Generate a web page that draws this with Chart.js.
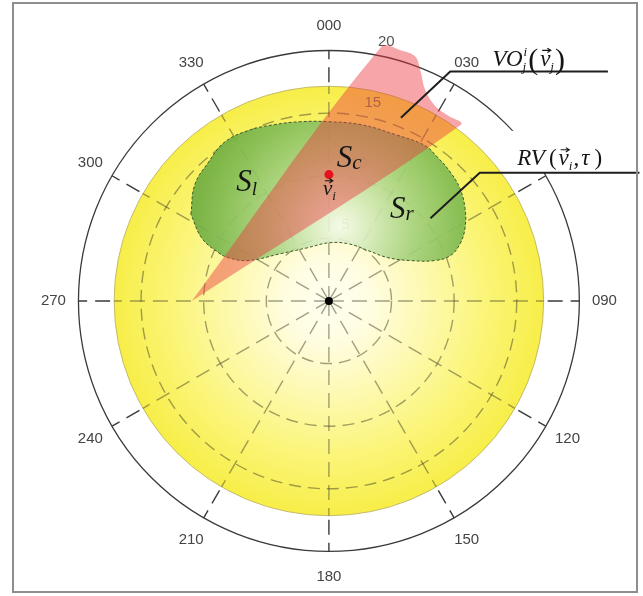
<!DOCTYPE html>
<html>
<head>
<meta charset="utf-8">
<script src="https://cdn.jsdelivr.net/npm/chart.js@4.4.1/dist/chart.umd.min.js"></script>
<style>
  html, body { margin: 0; padding: 0; background: #ffffff; }
  canvas { display: block; }
</style>
</head>
<body>
<canvas id="c" width="643" height="596"></canvas>
<script>
// Bearing labels, every 30 degrees clockwise from north
const bearingLabels = ['000', '030', '060', '090', '120', '150', '180', '210', '240', '270', '300', '330'];
// Speed rings (knots)
const speedRings = [5, 10, 15, 20];
// Radius of the reachable velocity set RV(v_i, tau)
const reachableRadius = [17.15];

// Own velocity v_i (east, north components)
const ownVelocityX = [0];
const ownVelocityY = [10.1];

// Reachable safe velocities S = S_l + S_c + S_r (outline)
const safeSetX = [-11.02, -10.71, -9.61, -8.35, -6.46, -4.41, -2.28, 0.00, 2.60, 5.28, 7.64, 8.66, 9.69, 10.47, 10.87,
                  10.87, 10.47, 9.69, 8.43, 6.54, 4.72, 3.15, 1.57, 0.00, -1.73, -3.86, -6.46, -8.03, -8.82, -10.16, -11.02];
const safeSetY = [6.93, 9.29, 11.10, 12.68, 13.62, 14.09, 14.33, 14.33, 14.09, 13.31, 12.44, 11.50, 10.31, 8.98, 7.40,
                  5.83, 4.57, 3.62, 3.23, 3.23, 3.46, 4.02, 4.57, 4.65, 4.25, 3.78, 3.23, 3.46, 3.86, 5.04, 6.93];

// Velocity obstacle VO_j^i(v_j): apex and far cap
const obstacleX = [-10.95, 4.15, 5.83, 6.91, 7.30, 7.69, 8.48, 9.53, 10.55, -10.95];
const obstacleY = [0.00, 20.29, 20.00, 19.53, 18.45, 16.87, 15.59, 14.80, 14.09, 0.00];

const toPoints = (xs, ys) => xs.map((v, i) => ({ x: v, y: ys[i] }));

const SERIF = '"Liberation Serif", "DejaVu Serif", serif';
const SANS = '"Liberation Sans", Arial, sans-serif';

function unitPx(chart) {
  const { x, y } = chart.scales;
  return {
    cx: x.getPixelForValue(0),
    cy: y.getPixelForValue(0),
    k: x.getPixelForValue(1) - x.getPixelForValue(0),
    px: (u, v) => [x.getPixelForValue(u), y.getPixelForValue(v)]
  };
}

// Polar background: RV disk, dashed speed rings, bearing spokes, labels
const polarGrid = {
  id: 'polarGrid',
  beforeDatasetsDraw(chart) {
    const ctx = chart.ctx;
    const { cx, cy, k } = unitPx(chart);
    const R = reachableRadius[0] * k;
    const outer = speedRings[speedRings.length - 1] * k;
    ctx.save();

    // reachable disk
    const g = ctx.createRadialGradient(cx, cy, 0, cx, cy, R);
    g.addColorStop(0, '#fffff2');
    g.addColorStop(0.2, '#fffde0');
    g.addColorStop(0.45, '#fdf9b0');
    g.addColorStop(0.72, '#fbf57a');
    g.addColorStop(1, '#f7ee48');
    ctx.beginPath();
    ctx.arc(cx, cy, R, 0, Math.PI * 2);
    ctx.fillStyle = g;
    ctx.fill();
    ctx.lineWidth = 1;
    ctx.strokeStyle = '#c4bb6a';
    ctx.stroke();

    // speed ring labels
    ctx.font = '15px ' + SANS;
    ctx.textAlign = 'center';
    ctx.textBaseline = 'middle';
    const la = 12.5 * Math.PI / 180;
    speedRings.forEach(r => {
      const rr = (r + 1.2) * k;
      ctx.fillStyle = r < reachableRadius[0] ? 'rgba(95,95,80,0.75)' : '#555555';
      ctx.fillText(String(r), cx + Math.sin(la) * rr, cy - Math.cos(la) * rr);
    });

    // dashed rings inside the disk
    ctx.setLineDash([12, 7]);
    ctx.lineWidth = 1.4;
    ctx.strokeStyle = 'rgba(70,70,40,0.5)';
    speedRings.filter(r => r < reachableRadius[0]).forEach(r => {
      ctx.beginPath();
      ctx.arc(cx, cy, r * k, 0, Math.PI * 2);
      ctx.stroke();
    });

    // bearing spokes
    ctx.setLineDash([15, 8]);
    bearingLabels.forEach((lab, i) => {
      const a = i * 30 * Math.PI / 180;
      const sx = Math.sin(a), sy = -Math.cos(a);
      ctx.strokeStyle = 'rgba(70,70,40,0.5)';
      ctx.beginPath();
      ctx.moveTo(cx, cy);
      ctx.lineTo(cx + sx * R, cy + sy * R);
      ctx.stroke();
      ctx.strokeStyle = '#3a3a3a';
      ctx.beginPath();
      ctx.moveTo(cx + sx * (R + 4), cy + sy * (R + 4));
      ctx.lineTo(cx + sx * outer, cy + sy * outer);
      ctx.stroke();
    });
    ctx.setLineDash([]);

    // outer speed circle
    ctx.beginPath();
    ctx.arc(cx, cy, outer, 0, Math.PI * 2);
    ctx.lineWidth = 1.3;
    ctx.strokeStyle = '#3a3a3a';
    ctx.stroke();

    // bearing labels
    ctx.font = '15px ' + SANS;
    ctx.fillStyle = '#444444';
    const lr = 22 * k;
    bearingLabels.forEach((lab, i) => {
      const a = i * 30 * Math.PI / 180;
      ctx.fillText(lab, cx + Math.sin(a) * lr, cy - Math.cos(a) * lr);
    });
    ctx.restore();
  }
};

// draw a run of math text pieces
function mathRun(ctx, x, y, parts) {
  parts.forEach(p => {
    ctx.font = (p.up ? 'normal ' : 'italic ') + p.s + 'px ' + SERIF;
    const w = ctx.measureText(p.t).width;
    const px = x + (p.dx || 0);
    const py = y + (p.dy || 0);
    ctx.fillText(p.t, px, py);
    if (p.vec) {
      const ay = py - p.s * 0.66;
      const x0 = px + w * 0.2, x1 = px + w * 1.05;
      ctx.beginPath();
      ctx.moveTo(x0, ay);
      ctx.lineTo(x1, ay);
      ctx.moveTo(x1 - 3.5, ay - 2.2);
      ctx.lineTo(x1, ay);
      ctx.lineTo(x1 - 3.5, ay + 2.2);
      ctx.lineWidth = 1.1;
      ctx.stroke();
    }
    if (!p.stay) x = px + w + (p.kern || 0);
  });
}

// Labels, leader lines and frame
const annotations = {
  id: 'annotations',
  afterDatasetsDraw(chart) {
    const ctx = chart.ctx;
    const { px } = unitPx(chart);
    ctx.save();
    ctx.textAlign = 'left';
    ctx.textBaseline = 'alphabetic';
    ctx.fillStyle = '#151515';
    ctx.strokeStyle = '#151515';

    // region labels
    let [x, y] = px(-7.40, 8.82);
    mathRun(ctx, x, y, [{ t: 'S', s: 31 }, { t: 'l', s: 19, dy: 4, kern: 0 }]);
    [x, y] = px(0.63, 10.71);
    mathRun(ctx, x, y, [{ t: 'S', s: 31 }, { t: 'c', s: 21, dy: 2 }]);
    [x, y] = px(4.88, 6.61);
    mathRun(ctx, x, y, [{ t: 'S', s: 31 }, { t: 'r', s: 21, dy: 2 }]);

    // own velocity label
    [x, y] = px(-0.47, 8.50);
    mathRun(ctx, x, y, [{ t: 'v', s: 21, vec: true }, { t: 'i', s: 13, dy: 5 }]);

    // white backing of the RV callout
    const [bx0, by0] = px(14.1, 13.6);
    const [bx1, by1] = px(24.8, 10.3);
    ctx.fillStyle = '#ffffff';
    ctx.fillRect(bx0, by0, bx1 - bx0, by1 - by0);
    ctx.fillStyle = '#151515';

    // leader lines
    const leader = pts => {
      ctx.beginPath();
      pts.forEach((p, i) => {
        const [lx, ly] = px(p[0], p[1]);
        if (i === 0) ctx.moveTo(lx, ly); else ctx.lineTo(lx, ly);
      });
      ctx.lineWidth = 2;
      ctx.strokeStyle = '#1e1e1e';
      ctx.stroke();
    };
    leader([[5.75, 14.65], [9.69, 18.35], [22.28, 18.35]]);
    leader([[8.11, 6.61], [12.05, 10.24], [24.8, 10.24]]);
    ctx.strokeStyle = '#151515';

    // VO_j^i(v_j)
    [x, y] = px(13.07, 18.82);
    mathRun(ctx, x, y, [
      { t: 'VO', s: 23 },
      { t: 'i', s: 13, dy: -10, dx: 1, stay: true },
      { t: 'j', s: 13, dy: 5, dx: 0, kern: 2 },
      { t: '(', s: 30, up: true, dy: 3 },
      { t: 'v', s: 23, vec: true, dx: 2 },
      { t: 'j', s: 13, dy: 5, kern: 1 },
      { t: ')', s: 30, up: true, dy: 3 }
    ]);

    // RV(v_i, tau)
    [x, y] = px(15.04, 10.87);
    mathRun(ctx, x, y, [
      { t: 'RV', s: 23 },
      { t: '(', s: 23, up: true, dx: 4 },
      { t: 'v', s: 23, vec: true, dx: 2 },
      { t: 'i', s: 13, dy: 5 },
      { t: ',', s: 23, up: true, dx: 1 },
      { t: 'τ', s: 23, dx: 2 },
      { t: ')', s: 23, up: true, dx: 5 }
    ]);
    ctx.restore();
  },
  afterDraw(chart) {
    const ctx = chart.ctx;
    ctx.save();
    ctx.lineWidth = 2;
    ctx.strokeStyle = '#8e8e8e';
    ctx.strokeRect(13, 3, 624, 589);
    ctx.restore();
  }
};

new Chart(document.getElementById('c'), {
  type: 'scatter',
  data: {
    datasets: [
      {
        label: 'origin',
        data: [{ x: 0, y: 0 }],
        pointRadius: 4,
        pointBackgroundColor: '#000000',
        pointBorderWidth: 0,
        order: 0
      },
      {
        label: 'v_i',
        data: toPoints(ownVelocityX, ownVelocityY),
        pointRadius: 4.5,
        pointBackgroundColor: '#e5121c',
        pointBorderWidth: 0,
        order: 0
      },
      {
        label: 'VO',
        data: toPoints(obstacleX, obstacleY),
        showLine: true,
        fill: 'shape',
        tension: 0.35,
        backgroundColor: 'rgba(235,55,65,0.45)',
        borderWidth: 0,
        borderColor: 'rgba(0,0,0,0)',
        pointRadius: 0,
        order: 1
      },
      {
        label: 'S',
        data: toPoints(safeSetX, safeSetY),
        showLine: true,
        fill: 'shape',
        tension: 0.4,
        backgroundColor(c) {
          const chart = c.chart;
          if (!chart.chartArea) return 'rgba(150,200,110,0.88)';
          const { x, y } = chart.scales;
          const gx = x.getPixelForValue(0.9), gy = y.getPixelForValue(6.0);
          const r = x.getPixelForValue(11.5) - x.getPixelForValue(0);
          const g = chart.ctx.createRadialGradient(gx, gy, 0, gx, gy, r);
          g.addColorStop(0, 'rgba(244,250,234,0.9)');
          g.addColorStop(0.2, 'rgba(214,235,190,0.9)');
          g.addColorStop(0.5, 'rgba(166,210,126,0.9)');
          g.addColorStop(0.8, 'rgba(132,189,86,0.92)');
          g.addColorStop(1, 'rgba(114,175,66,0.93)');
          return g;
        },
        borderColor: '#3f5a2c',
        borderWidth: 1,
        borderDash: [3, 2],
        pointRadius: 0,
        order: 2
      }
    ]
  },
  options: {
    responsive: false,
    animation: false,
    devicePixelRatio: 1,
    events: [],
    layout: { padding: 0 },
    plugins: { legend: { display: false }, tooltip: { enabled: false } },
    scales: {
      x: { type: 'linear', display: false, min: -25.906, max: 24.724 },
      y: { type: 'linear', display: false, min: -23.228, max: 23.701 }
    }
  },
  plugins: [polarGrid, annotations]
});
</script>
</body>
</html>
